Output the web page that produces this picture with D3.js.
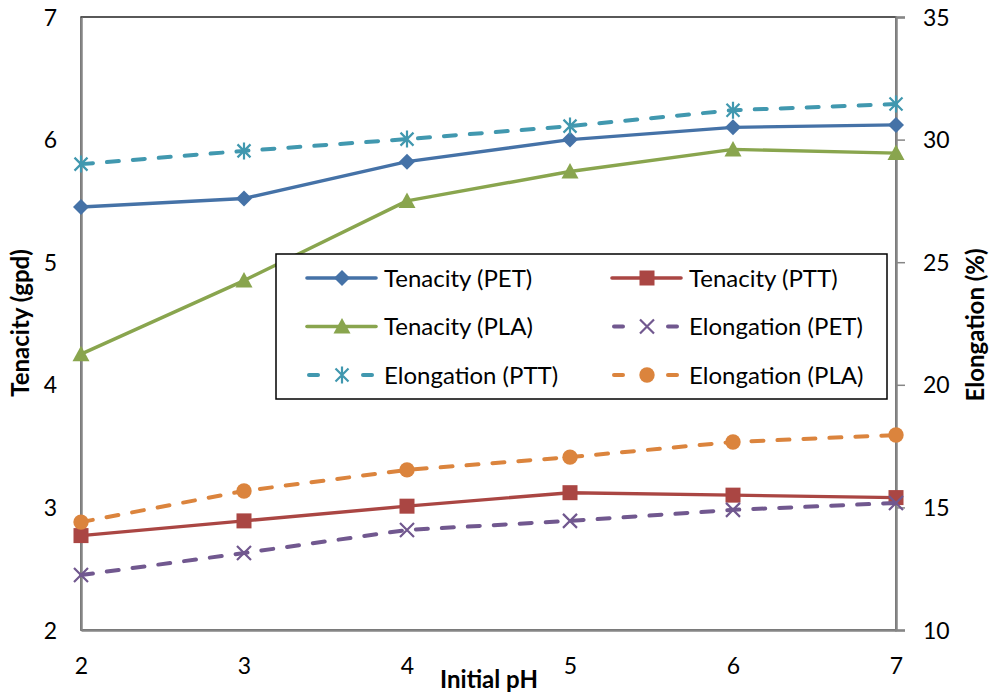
<!DOCTYPE html>
<html>
<head>
<meta charset="utf-8">
<script src="https://cdn.jsdelivr.net/npm/d3@7"></script>
<style>
  body { margin: 0; background: #fff; }
  svg { display: block; font-family: Lato, "Open Sans", sans-serif; }
</style>
</head>
<body>
<svg id="chart" width="995" height="698"></svg>
<script>
// pH values on the x axis
const phValues = [2, 3, 4, 5, 6, 7];

// Tenacity (gpd), left axis
const tenacityPET = [5.45, 5.52, 5.82, 6.00, 6.10, 6.12];
const tenacityPTT = [2.77, 2.89, 3.01, 3.12, 3.10, 3.08];
const tenacityPLA = [4.25, 4.85, 5.50, 5.74, 5.92, 5.89];

// Elongation (%), right axis
const elongationPET = [12.24, 13.14, 14.08, 14.45, 14.90, 15.18];
const elongationPTT = [29.00, 29.54, 30.02, 30.55, 31.20, 31.45];
const elongationPLA = [14.40, 15.67, 16.53, 17.05, 17.67, 17.95];

const leftTicks = [2, 3, 4, 5, 6, 7];
const rightTicks = [10, 15, 20, 25, 30, 35];

const series = [
  { name: "Tenacity (PET)",   values: tenacityPET,   axis: "left",  color: "#4572A7", marker: "diamond",  dashed: false },
  { name: "Tenacity (PTT)",   values: tenacityPTT,   axis: "left",  color: "#AA4643", marker: "square",   dashed: false },
  { name: "Tenacity (PLA)",   values: tenacityPLA,   axis: "left",  color: "#89A54E", marker: "triangle", dashed: false },
  { name: "Elongation (PET)", values: elongationPET, axis: "right", color: "#71588F", marker: "x",        dashed: true },
  { name: "Elongation (PTT)", values: elongationPTT, axis: "right", color: "#4198AF", marker: "star",     dashed: true },
  { name: "Elongation (PLA)", values: elongationPLA, axis: "right", color: "#DB843D", marker: "circle",   dashed: true }
];

const svg = d3.select("#chart");
const plot = { left: 81, right: 896, top: 17, bottom: 630 };

const x = d3.scaleLinear().domain([2, 7]).range([plot.left, plot.right]);
const yL = d3.scaleLinear().domain([2, 7]).range([plot.bottom, plot.top]);
const yR = d3.scaleLinear().domain([10, 35]).range([plot.bottom, plot.top]);

// plot area frame
svg.append("rect")
  .attr("x", plot.left).attr("y", plot.top)
  .attr("width", plot.right - plot.left).attr("height", plot.bottom - plot.top)
  .attr("fill", "none").attr("stroke", "#000").attr("stroke-width", 1.3);

// axes
const axisColor = "#868686";
const gx = svg.append("g").attr("transform", `translate(0,${plot.bottom})`)
  .call(d3.axisBottom(x).tickValues(phValues).tickFormat(d3.format("d")).tickSize(0).tickPadding(26));
const gl = svg.append("g").attr("transform", `translate(${plot.left},0)`)
  .call(d3.axisLeft(yL).tickValues(leftTicks).tickFormat(d3.format("d")).tickSize(0).tickPadding(24));
const gr = svg.append("g").attr("transform", `translate(${plot.right},0)`)
  .call(d3.axisRight(yR).tickValues(rightTicks).tickFormat(d3.format("d")).tickSize(9).tickPadding(18));

[gx, gl, gr].forEach(g => {
  g.select(".domain").attr("stroke", axisColor).attr("stroke-width", 2.5);
  g.selectAll(".tick line").attr("stroke", axisColor).attr("stroke-width", 1.5);
  g.selectAll(".tick text").attr("fill", "#000").style("font-size", "23px")
    .style("font-family", "Lato, 'Open Sans', sans-serif");
});
gx.selectAll(".tick text").attr("dy", "0.35em").attr("y", 36);
gl.selectAll(".tick text").attr("dy", "0.35em");
gr.selectAll(".tick text").attr("dy", "0.35em");

// axis titles
svg.append("text").attr("x", 489).attr("y", 688).attr("text-anchor", "middle")
  .style("font-size", "24px").style("font-weight", "bold").text("Initial pH");
svg.append("text").attr("transform", "translate(29,323) rotate(-90)").attr("text-anchor", "middle")
  .style("font-size", "24px").style("font-weight", "bold").text("Tenacity (gpd)");
svg.append("text").attr("transform", "translate(984,325) rotate(-90)").attr("text-anchor", "middle")
  .style("font-size", "24px").style("font-weight", "bold").text("Elongation (%)");

// marker drawing
function drawMarker(g, type, color) {
  switch (type) {
    case "diamond":
      g.append("path").attr("d", "M0,-8L8,0L0,8L-8,0Z").attr("fill", color);
      break;
    case "square":
      g.append("rect").attr("x", -7.5).attr("y", -7.5).attr("width", 15).attr("height", 15).attr("fill", color);
      break;
    case "triangle":
      g.append("path").attr("d", "M0,-8.5L8.5,7L-8.5,7Z").attr("fill", color);
      break;
    case "x":
      g.append("path").attr("d", "M-7,-7L7,7M-7,7L7,-7")
        .attr("stroke", color).attr("stroke-width", 2.2).attr("fill", "none");
      break;
    case "star":
      g.append("path").attr("d", "M-6.5,-6.5L6.5,6.5M-6.5,6.5L6.5,-6.5M0,-8.5L0,8.5")
        .attr("stroke", color).attr("stroke-width", 2.2).attr("fill", "none");
      break;
    case "circle":
      g.append("circle").attr("r", 7.7).attr("fill", color);
      break;
  }
}

// series lines and markers
series.forEach(s => {
  const y = s.axis === "left" ? yL : yR;
  const line = d3.line().x((d, i) => x(phValues[i])).y(d => y(d));
  svg.append("path").datum(s.values)
    .attr("d", line)
    .attr("fill", "none")
    .attr("stroke", s.color)
    .attr("stroke-width", s.dashed ? 4 : 3.4)
    .attr("stroke-linecap", s.dashed ? "round" : "butt")
    .attr("stroke-linejoin", "round")
    .attr("stroke-dasharray", s.dashed ? "12,14" : null);
  s.values.forEach((v, i) => {
    const g = svg.append("g").attr("transform", `translate(${x(phValues[i])},${y(v)})`);
    drawMarker(g, s.marker, s.color);
  });
});

// legend
const legend = svg.append("g");
legend.append("rect").attr("x", 276).attr("y", 254).attr("width", 611).attr("height", 145)
  .attr("fill", "#fff").attr("stroke", "#000").attr("stroke-width", 1.5);

series.forEach((s, i) => {
  const col = i % 2, row = Math.floor(i / 2);
  const lx = col === 0 ? 307 : 612;
  const ly = 278 + row * 48.5;
  const g = legend.append("g").attr("transform", `translate(${lx},${ly})`);
  if (s.dashed) {
    [[2, 11], [56, 65]].forEach(([a, b]) => {
      g.append("line").attr("x1", a).attr("x2", b).attr("y1", 0).attr("y2", 0)
        .attr("stroke", s.color).attr("stroke-width", 4).attr("stroke-linecap", "round");
    });
  } else {
    g.append("line").attr("x1", 0).attr("x2", 69).attr("y1", 0).attr("y2", 0)
      .attr("stroke", s.color).attr("stroke-width", 3.6).attr("stroke-linecap", "round");
  }
  const m = g.append("g").attr("transform", "translate(35,0)");
  drawMarker(m, s.marker, s.color);
  g.append("text").attr("x", 77).attr("y", 0).attr("dy", "0.36em")
    .style("font-size", "24px").text(s.name);
});
</script>
</body>
</html>
